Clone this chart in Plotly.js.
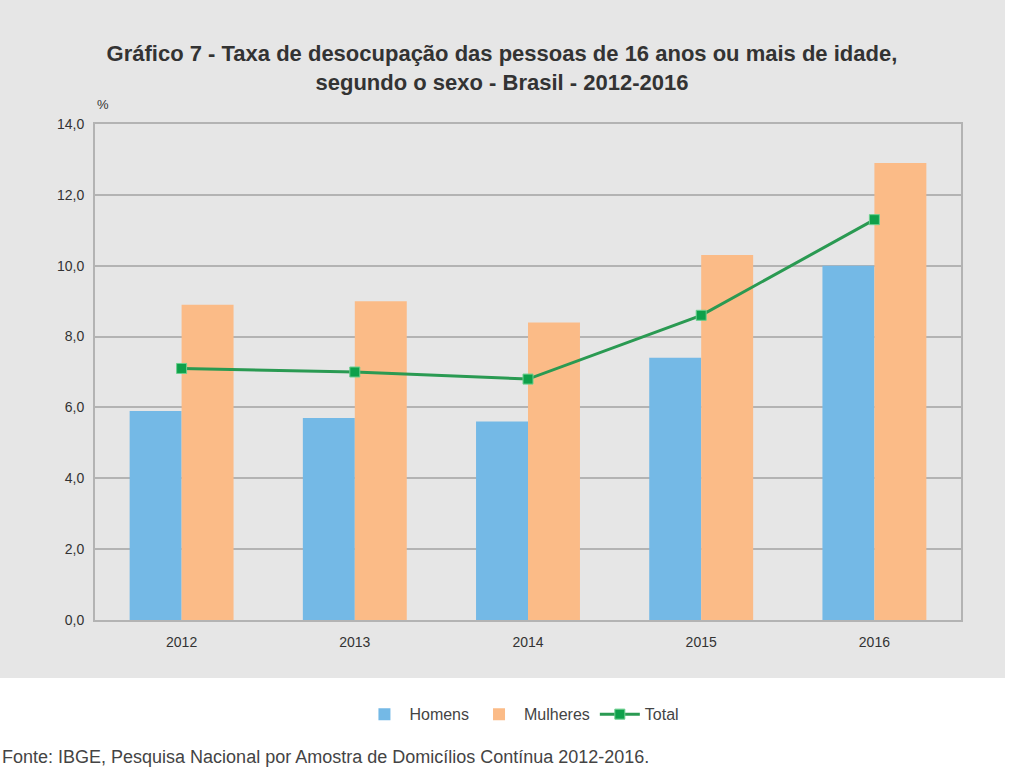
<!DOCTYPE html>
<html>
<head>
<meta charset="utf-8">
<script src="https://cdn.plot.ly/plotly-3.0.1.min.js"></script>
<style>html,body{margin:0;padding:0;background:#fff;}#chart{width:1012px;height:772px;}</style>
</head>
<body>
<div id="chart"></div>
<script>
const years = ['2012', '2013', '2014', '2015', '2016'];
const homens = [5.9, 5.7, 5.6, 7.4, 10.0];
const mulheres = [8.9, 9.0, 8.4, 10.3, 12.9];
const total = [7.1, 7.0, 6.8, 8.6, 11.3];
const yTicks = [0, 2, 4, 6, 8, 10, 12, 14];

const FONT = '"Liberation Sans Narrow", "Liberation Sans", Arial, sans-serif';

const traces = [
  {type: 'bar', name: 'Homens', x: years, y: homens,
   marker: {color: '#74b9e6'}, hoverinfo: 'y'},
  {type: 'bar', name: 'Mulheres', x: years, y: mulheres,
   marker: {color: '#fbbb87'}, hoverinfo: 'y'},
  {type: 'scatter', mode: 'lines+markers', name: 'Total', x: years, y: total,
   line: {color: '#2a9a52', width: 3},
   marker: {symbol: 'square', size: 10, color: '#0ea04a', line: {color: '#6ccf8e', width: 1}}}
];

const layout = {
  width: 1012, height: 772,
  margin: {l: 95, r: 51, t: 124, b: 152},
  paper_bgcolor: '#ffffff',
  plot_bgcolor: '#ffffff',
  separators: ',.',
  font: {family: FONT, color: '#333333', size: 14},
  title: {
    text: '<b>Gráfico 7 - Taxa de desocupação das pessoas de 16 anos ou mais de idade,<br>segundo o sexo - Brasil - 2012-2016</b>',
    x: 0.496, xanchor: 'center', y: 0.921, yanchor: 'top',
    font: {family: FONT, size: 22, color: '#333333'}
  },
  barmode: 'group',
  bargap: 0.4,
  bargroupgap: 0,
  xaxis: {
    type: 'category',
    showgrid: false, zeroline: false,
    showline: true, linecolor: '#b3b3b3', linewidth: 2, mirror: true,
    ticks: '', tickfont: {size: 14, color: '#333333'},
    ticklabelstandoff: 8
  },
  yaxis: {
    range: [0, 14], tickvals: yTicks, tickformat: '.1f',
    showgrid: true, gridcolor: '#b3b3b3', gridwidth: 2,
    zeroline: false,
    showline: true, linecolor: '#b3b3b3', linewidth: 2, mirror: true,
    ticks: '', tickfont: {size: 14, color: '#333333'},
    ticklabelstandoff: 6
  },
  legend: {
    orientation: 'h', x: 0.493, xanchor: 'center', y: -0.19, yanchor: 'middle',
    font: {size: 16, color: '#444444'}, bgcolor: 'rgba(0,0,0,0)',
    itemwidth: 40
  },
  shapes: [
    {type: 'rect', xref: 'paper', yref: 'paper', layer: 'below',
     x0: -0.1097, x1: 1.0508, y0: -0.117, y1: 1.25,
     fillcolor: '#e6e6e6', line: {width: 0}}
  ],
  annotations: [
    {text: '%', xref: 'paper', yref: 'paper', x: 0.0, y: 1.02, xanchor: 'left', yanchor: 'bottom',
     showarrow: false, font: {size: 13, color: '#333333'}},
    {text: 'Fonte: IBGE, Pesquisa Nacional por Amostra de Domicílios Contínua 2012-2016.',
     xref: 'paper', yref: 'paper', x: -0.1097, y: -0.276, xanchor: 'left', yanchor: 'middle',
     showarrow: false, font: {size: 18, color: '#444444'}}
  ],
  showlegend: true
};

Plotly.newPlot('chart', traces, layout, {displayModeBar: false, responsive: false});
</script>
</body>
</html>
